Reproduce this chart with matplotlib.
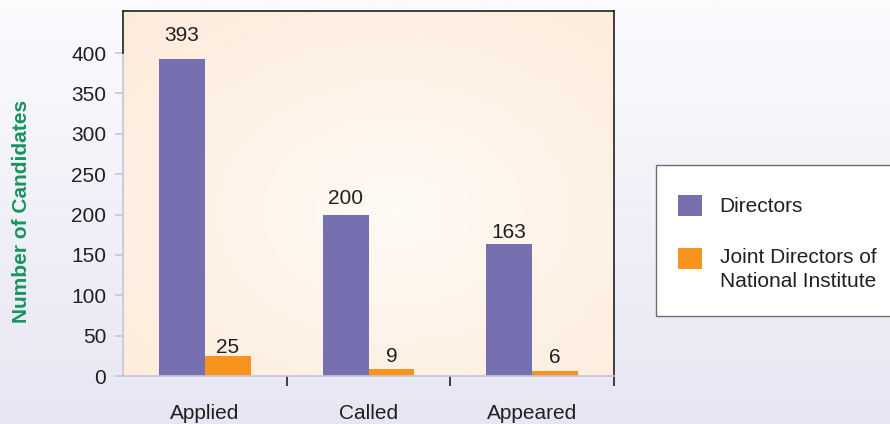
import numpy as np
import matplotlib
matplotlib.use("Agg")
import matplotlib.pyplot as plt
from matplotlib.patches import Patch, Rectangle
from matplotlib.legend_handler import HandlerPatch
from matplotlib.colors import LinearSegmentedColormap

plt.rcParams["font.family"] = ["Liberation Sans", "DejaVu Sans"]

# Data
stages = ["Applied", "Called", "Appeared"]
directors = [393, 200, 163]
joint_directors = [25, 9, 6]
series_labels = ["Directors", "Joint Directors of\nNational Institute"]

purple = "#7670b0"
orange = "#f7941d"
dark = "#231f20"
lavender = "#c6c3de"
fs = 15

fig = plt.figure(figsize=(8.9, 4.24), dpi=100)

# Figure background: white fading to lavender at the bottom
bg = fig.add_axes([0, 0, 1, 1], zorder=-10)
bg_cmap = LinearSegmentedColormap.from_list("bg", ["#e7e6f3", "#fbfbfe"])
bg.imshow(np.linspace(0, 1, 256).reshape(-1, 1), cmap=bg_cmap, aspect="auto",
          extent=[0, 1, 0, 1], origin="lower")
bg.axis("off")

ax = fig.add_axes([0.1382, 0.1132, 0.5517, 0.8608])
ax.set_facecolor("none")

# Radial gradient inside the plot area
yy, xx = np.mgrid[0:1:200j, 0:1:200j]
r = np.sqrt(((xx - 0.55) / 0.8) ** 2 + ((yy - 0.45) / 0.8) ** 2)
grad_cmap = LinearSegmentedColormap.from_list("pa", ["#fffaf4", "#fdebda"])
ax.imshow(r, cmap=grad_cmap, aspect="auto", extent=[0, 1, 0, 1], origin="lower",
          transform=ax.transAxes, zorder=0)

x = np.arange(len(stages))
w = 0.28
b1 = ax.bar(x - w / 2, directors, w, color=purple, zorder=2, label=series_labels[0])
b2 = ax.bar(x + w / 2, joint_directors, w, color=orange, zorder=2, label=series_labels[1])

# label gaps differ slightly from bar to bar in the original
for bars, pads in [(b1, [9.5, 4.5, 2.0]), (b2, [-0.5, 1.9, 3.0])]:
    texts = ax.bar_label(bars, padding=0, fontsize=fs, color=dark)
    for t, p in zip(texts, pads):
        t.xyann = (0, p)

ax.set_xlim(-0.5, 2.5)
ax.set_ylim(0, 452)
ax.set_yticks(range(0, 401, 50))
ax.tick_params(axis="y", colors=lavender, labelcolor=dark, labelsize=fs,
               length=6, width=1.2, pad=6)

ax.set_xticks(x)
ax.set_xticklabels(stages, fontsize=fs, color=dark)
ax.tick_params(axis="x", which="major", length=0, pad=20)
ax.set_xticks([0.5, 1.5, 2.5], minor=True)
ax.tick_params(axis="x", which="minor", length=7, width=1.2, color=dark)

for s in ["top", "right"]:
    ax.spines[s].set_color(dark)
    ax.spines[s].set_linewidth(1.2)
ax.spines["left"].set_color(lavender)
ax.spines["left"].set_linewidth(1.2)
ax.spines["left"].set_bounds(0, 400)
ax.spines["bottom"].set_color(lavender)
ax.spines["bottom"].set_linewidth(1.2)
ax.plot([-0.5, -0.5], [400, 452], color=dark, lw=1.2, clip_on=False, zorder=5)

ax.set_ylabel("Number of Candidates", fontsize=15, fontweight="bold", color="#16955d")
ax.yaxis.set_label_coords(-0.188, 0.45)

# Legend box (drawn separately so padding can differ per side)
fig.add_artist(Rectangle((656 / 890, 1 - 316 / 424), 0.3, 151 / 424,
                         transform=fig.transFigure, facecolor="white",
                         edgecolor="#6d6e71", linewidth=1.0, zorder=3))


def raised_square(legend, orig_handle, xdescent, ydescent, width, height, fontsize):
    # second entry: square sits level with the first text line
    return Rectangle((-xdescent, -ydescent + 0.55 * fontsize), width, height)


handles = [Patch(facecolor=purple), Patch(facecolor=orange)]
leg = fig.legend(handles, series_labels, loc="upper left",
                 bbox_to_anchor=(678 / 890, 1 - 195 / 424),
                 fontsize=fs, frameon=False,
                 handlelength=1.15, handleheight=1.15, handletextpad=0.85,
                 labelspacing=1.5, borderpad=0, borderaxespad=0,
                 handler_map={handles[1]: HandlerPatch(patch_func=raised_square)})
leg.set_zorder(4)
for t in leg.get_texts():
    t.set_color(dark)
    t.set_linespacing(1.35)

fig.savefig("out.png", dpi=100)
